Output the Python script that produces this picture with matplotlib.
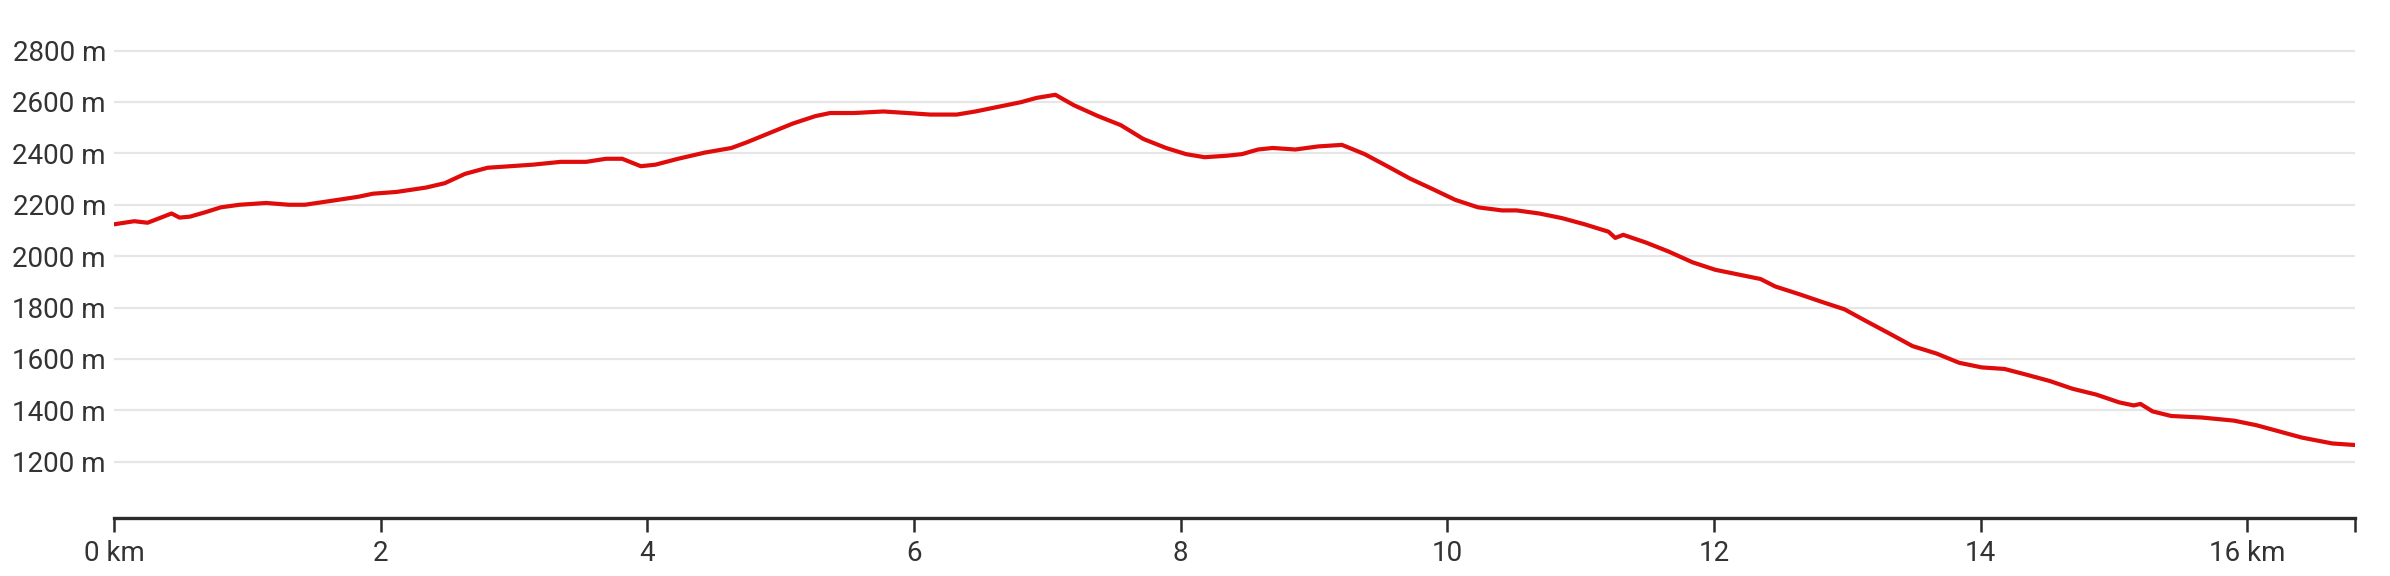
import matplotlib
matplotlib.use("Agg")
import matplotlib.pyplot as plt

# Distance along the route (km) and elevation (m)
distance_km = [0.00, 0.15, 0.25, 0.34, 0.43, 0.49, 0.57, 0.69, 0.80, 0.94,
               1.14, 1.31, 1.43, 1.60, 1.83, 1.94, 2.12, 2.34, 2.48, 2.63,
               2.80, 2.97, 3.14, 3.35, 3.54, 3.69, 3.81, 3.95, 4.06, 4.23,
               4.43, 4.63, 4.75, 4.92, 5.09, 5.26, 5.37, 5.55, 5.77, 5.95,
               6.12, 6.32, 6.46, 6.63, 6.80, 6.92, 7.06, 7.20, 7.38, 7.55,
               7.72, 7.89, 8.04, 8.18, 8.35, 8.46, 8.58, 8.69, 8.86, 9.03,
               9.21, 9.38, 9.55, 9.72, 9.89, 10.06, 10.23, 10.41, 10.52, 10.69,
               10.86, 11.03, 11.21, 11.26, 11.32, 11.49, 11.66, 11.84, 12.01, 12.18,
               12.35, 12.46, 12.64, 12.81, 12.98, 13.15, 13.32, 13.49, 13.67, 13.84,
               14.01, 14.18, 14.35, 14.52, 14.69, 14.87, 15.04, 15.15, 15.20, 15.29,
               15.43, 15.66, 15.90, 16.07, 16.24, 16.41, 16.64, 16.81]
elevation_m = [2124, 2136, 2130, 2148, 2166, 2150, 2154, 2172, 2190, 2200,
               2207, 2200, 2200, 2213, 2231, 2243, 2250, 2267, 2284, 2320,
               2344, 2350, 2356, 2367, 2367, 2379, 2379, 2350, 2356, 2379,
               2403, 2421, 2444, 2480, 2516, 2545, 2557, 2557, 2563, 2557,
               2551, 2551, 2563, 2581, 2599, 2616, 2628, 2587, 2545, 2510,
               2456, 2421, 2397, 2385, 2391, 2397, 2415, 2421, 2415, 2427,
               2433, 2397, 2350, 2302, 2261, 2219, 2190, 2178, 2178, 2166,
               2148, 2124, 2095, 2071, 2083, 2053, 2018, 1976, 1947, 1929,
               1911, 1882, 1852, 1822, 1793, 1745, 1698, 1650, 1621, 1585,
               1567, 1561, 1538, 1514, 1484, 1461, 1431, 1419, 1425, 1396,
               1378, 1372, 1360, 1342, 1318, 1294, 1271, 1265]

y_ticks = [1200, 1400, 1600, 1800, 2000, 2200, 2400, 2600, 2800]
x_ticks = [0, 2, 4, 6, 8, 10, 12, 14, 16]
x_tick_labels = ["0 km", "2", "4", "6", "8", "10", "12", "14", "16 km"]

plt.rcParams['font.family'] = ['Roboto', 'DejaVu Sans']

fig = plt.figure(figsize=(23.9, 5.76), dpi=100)
ax = fig.add_axes([0.0478, 0.1007, 0.9376, 0.8561])

ax.plot(distance_km, elevation_m, color='#e00b0b', linewidth=3.0,
        solid_joinstyle='round', solid_capstyle='round', zorder=3)

x_end = distance_km[-1]
ax.set_xlim(0, x_end)
ax.set_ylim(981, 2900)

ax.set_yticks(y_ticks)
ax.set_yticklabels([f"{v} m" for v in y_ticks])
ax.set_xticks(x_ticks + [x_end])
ax.set_xticklabels(x_tick_labels + [""])

ax.grid(axis='y', color='#e6e6e6', linewidth=1.6)
ax.set_axisbelow(True)

for side in ['top', 'right', 'left']:
    ax.spines[side].set_visible(False)
ax.spines['bottom'].set_color('#2b2b2b')
ax.spines['bottom'].set_linewidth(2.4)

ax.tick_params(axis='y', length=0, pad=6, labelsize=20, labelcolor='#333333')
ax.tick_params(axis='x', length=10, width=1.8, color='#2b2b2b', pad=6,
               labelsize=20, labelcolor='#333333')

fig.savefig('out.png', dpi=100)
